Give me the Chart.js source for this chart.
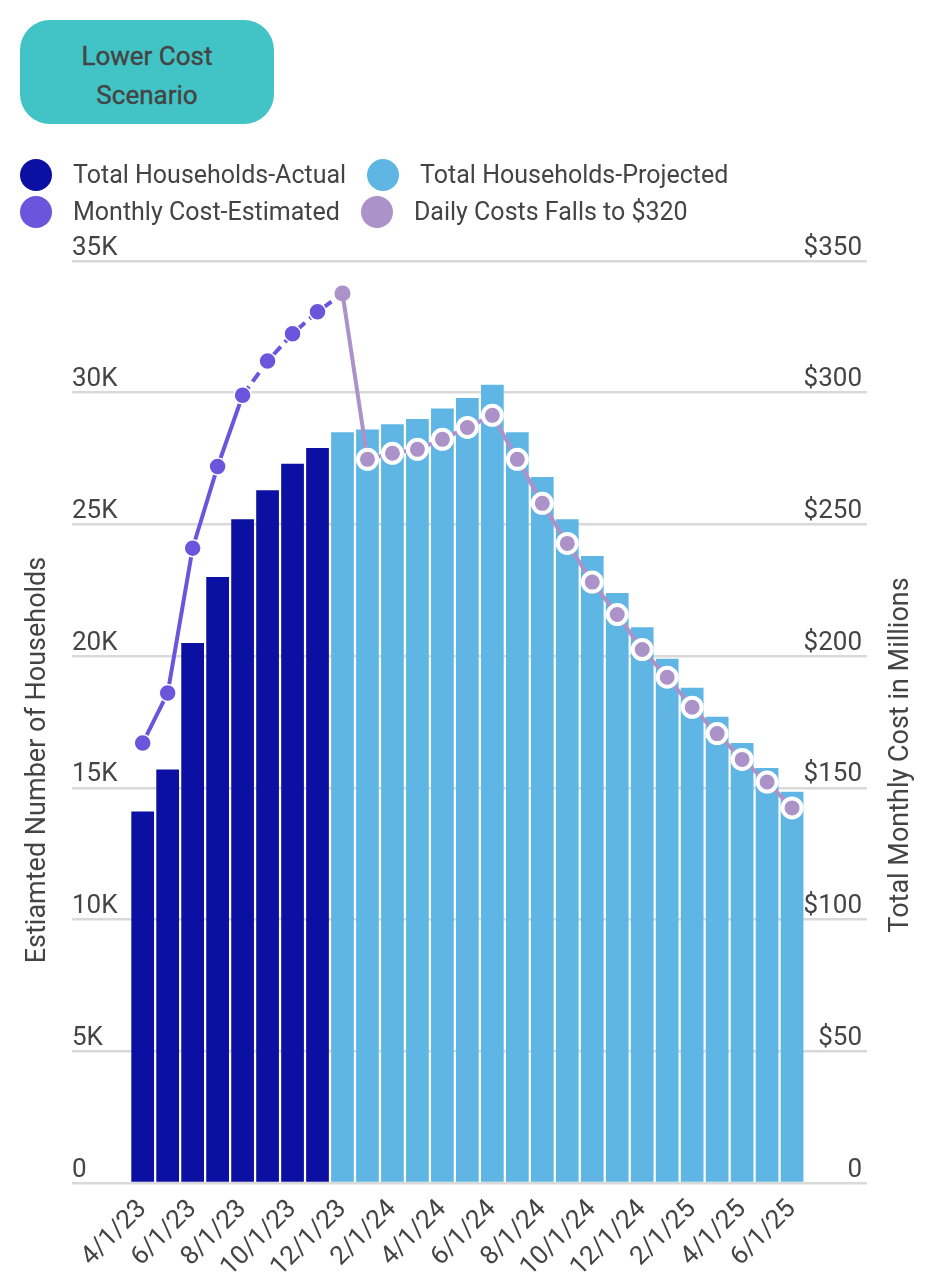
<!DOCTYPE html>
<html>
<head>
<meta charset="utf-8">
<script src="https://cdn.jsdelivr.net/npm/chart.js@4.4.1/dist/chart.umd.min.js"></script>
<style>
  html, body { margin: 0; padding: 0; background: #fff; }
  body { width: 935px; height: 1278px; position: relative; overflow: hidden; font-family: Roboto, "Noto Sans", sans-serif; }
  #wrap { position: absolute; left: 0; top: 0; width: 935px; height: 1278px; }
  #btn { position: absolute; left: 20px; top: 20px; width: 254px; height: 104px; border-radius: 30px;
         background: #42C4C6; color: #444; font: 400 26px Roboto, sans-serif; line-height: 39px;
         box-sizing: border-box; padding-top: 8px;
         display: flex; align-items: center; justify-content: center; text-align: center; -webkit-text-stroke: 0.4px #444; }
  #legend { position: absolute; left: 20px; top: 156px; color: #444; font: 25px Roboto, sans-serif; }
  .row { display: flex; align-items: center; height: 37px; white-space: nowrap; }
  .item { display: flex; align-items: center; margin-right: 21px; }
  .dot { width: 32px; height: 32px; border-radius: 50%; margin-right: 21px; flex: none; }
</style>
</head>
<body>
<div id="wrap"><canvas id="c"></canvas></div>
<div id="btn">Lower Cost<br>Scenario</div>
<div id="legend"></div>
<script>
// ---- data ----
const categories = ['4/1/23','5/1/23','6/1/23','7/1/23','8/1/23','9/1/23','10/1/23','11/1/23','12/1/23',
  '1/1/24','2/1/24','3/1/24','4/1/24','5/1/24','6/1/24','7/1/24','8/1/24','9/1/24','10/1/24','11/1/24','12/1/24',
  '1/1/25','2/1/25','3/1/25','4/1/25','5/1/25','6/1/25'];
const householdsActual = [14100, 15700, 20500, 23000, 25200, 26300, 27300, 27900];
const householdsProjected = [28500, 28600, 28800, 29000, 29400, 29800, 30300, 28500, 26800, 25200, 23800,
  22400, 21100, 19900, 18800, 17700, 16700, 15750, 14850];
const monthlyCostEstimated = [167, 186, 241, 272, 299, 312, 322.4, 330.7, 337.7];
const dailyCostFalls = [337.7, 274.7, 277, 278.5, 282.3, 286.8, 291.4, 274.7, 258, 242.8, 228.1, 215.8,
  202.5, 192, 180.6, 170.6, 160.8, 152.2, 142.4];
const seriesLabels = ['Total Households-Actual', 'Total Households-Projected', 'Monthly Cost-Estimated', 'Daily Costs Falls to $320'];
const seriesColors = ['#0B0FA2', '#5FB6E4', '#6B55DC', '#AB92C8'];
const leftTitle = 'Estiamted Number of Households';
const rightTitle = 'Total Monthly Cost in Millions';

const projectedStart = householdsActual.length;   // 12/1/23
const dailyStart = projectedStart;

const toXY = (arr, start) => arr.map((v, i) => ({ x: start + i, y: v }));

// ---- HTML legend ----
const legend = document.getElementById('legend');
[[0, 1], [2, 3]].forEach(pair => {
  const row = document.createElement('div');
  row.className = 'row';
  pair.forEach(k => {
    const it = document.createElement('div');
    it.className = 'item';
    const d = document.createElement('span');
    d.className = 'dot';
    d.style.background = seriesColors[k];
    const t = document.createElement('span');
    t.textContent = seriesLabels[k];
    it.appendChild(d); it.appendChild(t);
    row.appendChild(it);
  });
  legend.appendChild(row);
});

const titlePlugin = {
  id: 'axisTitles',
  afterDraw(chart) {
    const c = chart.ctx;
    [[leftTitle, 38, 760], [rightTitle, 901, 755]].forEach(([txt, x, y]) => {
      c.save();
      c.fillStyle = '#444';
      c.font = '27px Roboto';
      c.textAlign = 'center';
      c.textBaseline = 'middle';
      c.translate(x, y);
      c.rotate(-Math.PI / 2);
      c.fillText(txt, 0, 0);
      c.restore();
    });
  }
};

Chart.defaults.font.family = 'Roboto';
Chart.defaults.color = '#444';

new Chart(document.getElementById('c'), {
  type: 'bar',
  data: {
    datasets: [
      { type: 'bar', label: seriesLabels[0], data: toXY(householdsActual, 0), backgroundColor: seriesColors[0],
        yAxisID: 'y', grouped: false, barPercentage: 0.91, categoryPercentage: 1, order: 3 },
      { type: 'bar', label: seriesLabels[1], data: toXY(householdsProjected, projectedStart), backgroundColor: seriesColors[1],
        yAxisID: 'y', grouped: false, barPercentage: 0.91, categoryPercentage: 1, order: 2 },
      { type: 'line', label: seriesLabels[2], data: toXY(monthlyCostEstimated, 0), yAxisID: 'y1',
        borderColor: seriesColors[2], backgroundColor: seriesColors[2], borderWidth: 4, tension: 0,
        pointBackgroundColor: seriesColors[2], pointBorderColor: '#fff', pointBorderWidth: 1.5,
        pointRadius: c => c.dataIndex === monthlyCostEstimated.length - 1 ? 0 : 8.5,
        segment: { borderDash: c => c.p0DataIndex >= 4 ? [11, 6] : undefined },
        order: 1 },
      { type: 'line', label: seriesLabels[3], data: toXY(dailyCostFalls, dailyStart), yAxisID: 'y1',
        borderColor: seriesColors[3], backgroundColor: seriesColors[3], borderWidth: 4, tension: 0,
        pointBackgroundColor: seriesColors[3], pointBorderColor: '#fff',
        pointBorderWidth: c => c.dataIndex === 0 ? 0 : 4,
        pointRadius: c => c.dataIndex === 0 ? 8 : 9.5,
        order: 0 }
    ]
  },
  options: {
    responsive: true,
    maintainAspectRatio: false,
    animation: false,
    devicePixelRatio: 1,
    layout: { padding: { top: 261, left: 0, right: 0, bottom: 0 } },
    plugins: { legend: { display: false }, tooltip: { enabled: false } },
    scales: {
      x: {
        type: 'linear', position: 'bottom', min: -2.83, max: 29.0, offset: false,
        grid: { display: false }, border: { display: false },
        afterBuildTicks: s => { s.ticks = categories.map((c, i) => ({ value: i })).filter((t, i) => i % 2 === 0); },
        afterFit: s => { s.height = 95; },
        ticks: { autoSkip: false, minRotation: 45, maxRotation: 45, font: { size: 26 }, color: '#444',
          callback: v => categories[v] }
      },
      y: {
        position: 'left', min: 0, max: 35000,
        afterFit: s => { s.width = 72; },
        grid: { color: '#d9d9d9', lineWidth: 2.5, drawTicks: false },
        border: { display: false },
        ticks: { stepSize: 5000, mirror: true, padding: 0, labelOffset: -13, font: { size: 26 }, color: '#444',
          callback: v => v === 0 ? '0' : (v / 1000) + 'K' }
      },
      y1: {
        position: 'right', min: 0, max: 350,
        afterFit: s => { s.width = 68; },
        grid: { display: false, drawTicks: false },
        border: { display: false },
        ticks: { stepSize: 50, mirror: true, padding: -5, labelOffset: -13, font: { size: 26 }, color: '#444',
          callback: v => v === 0 ? '0' : '$' + v }
      }
    }
  },
  plugins: [titlePlugin]
});
</script>
</body>
</html>
